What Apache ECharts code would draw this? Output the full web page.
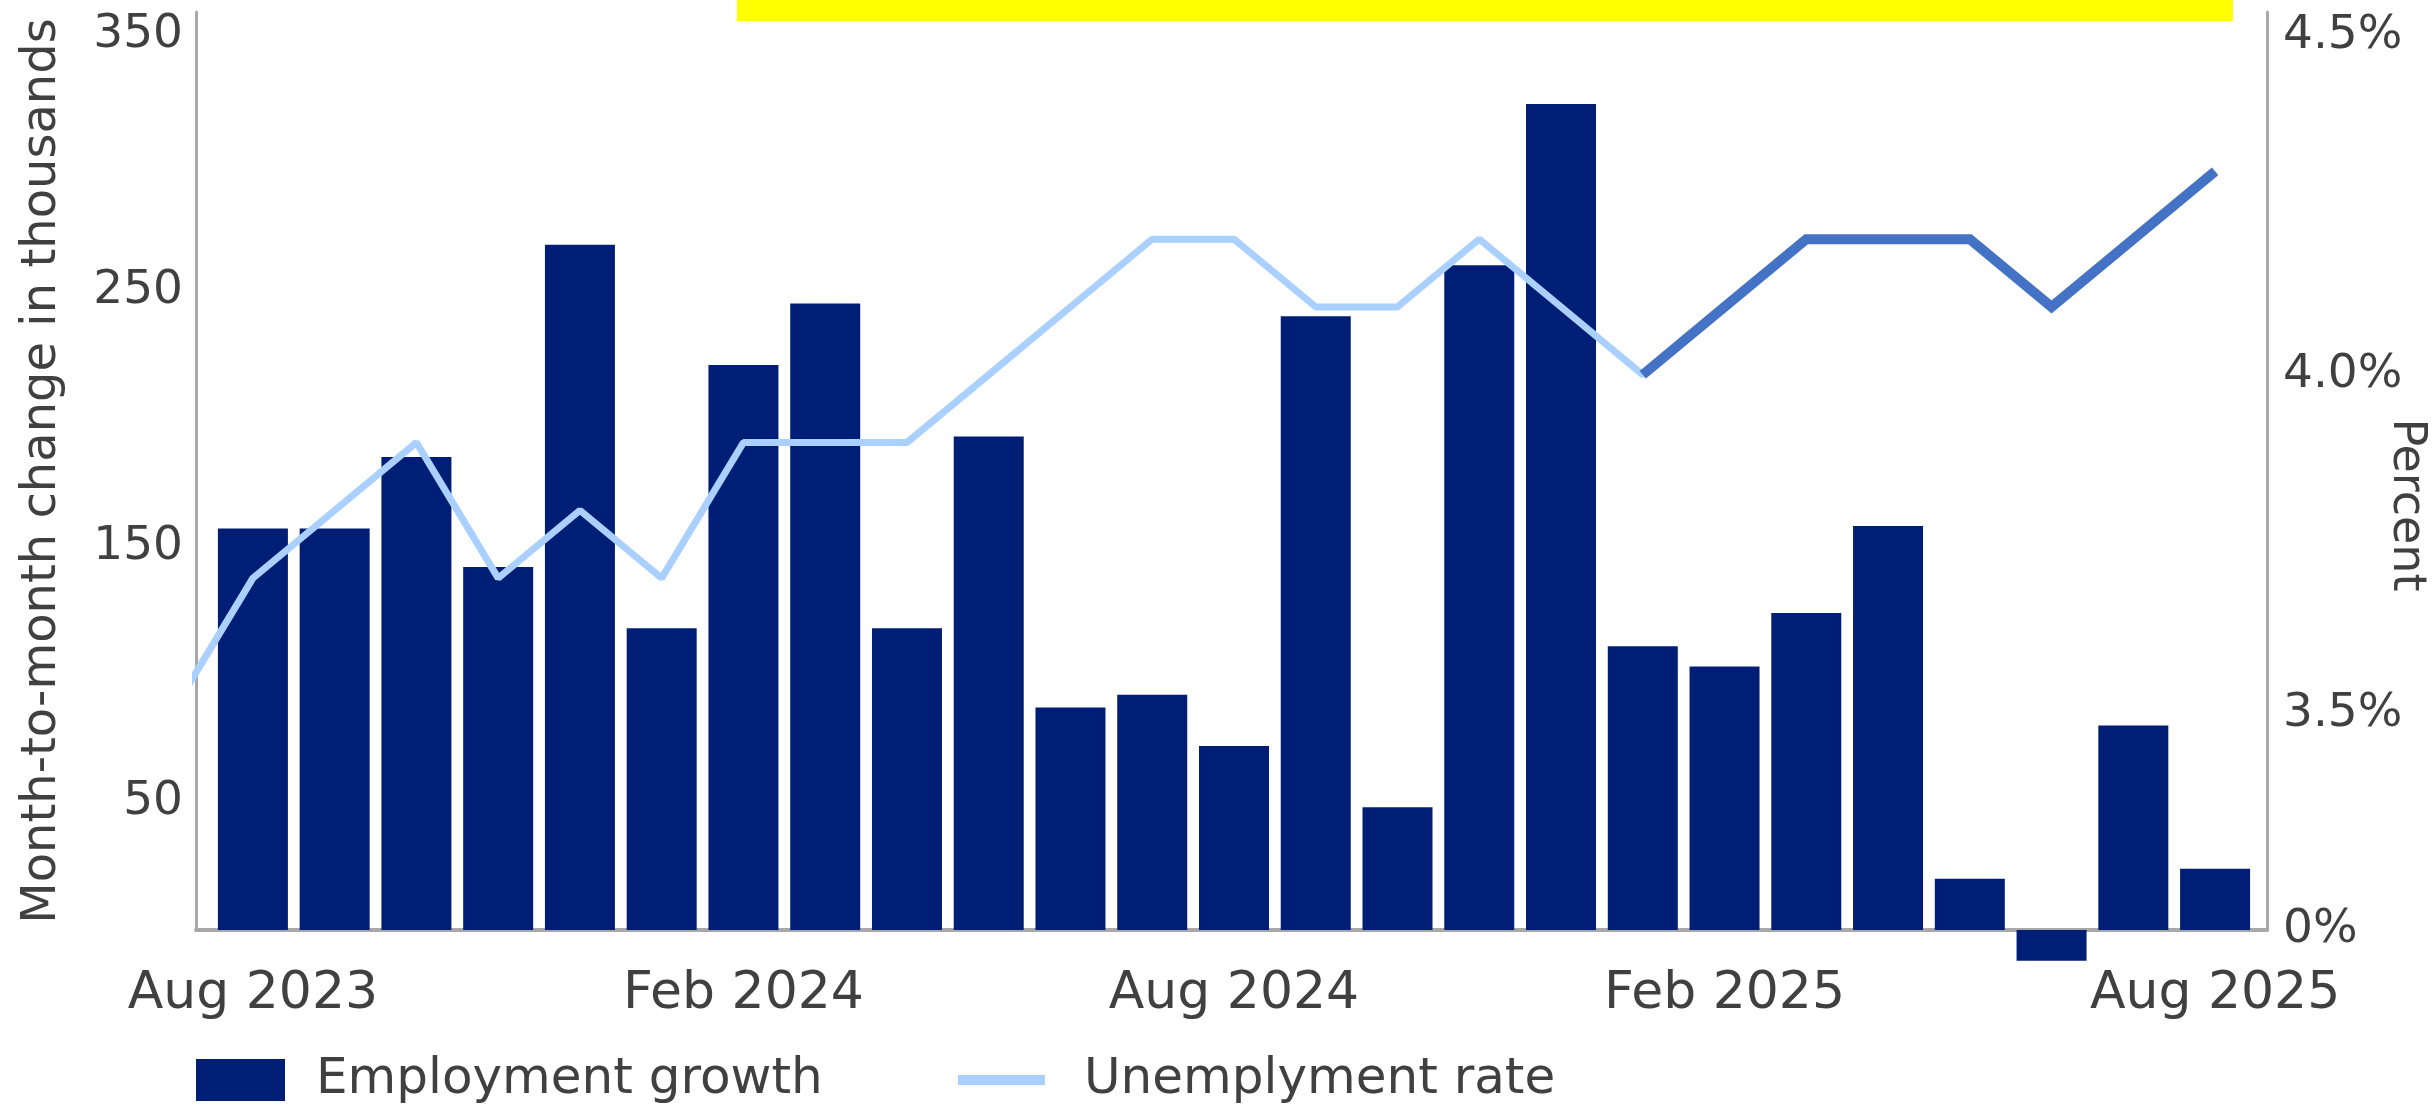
<!DOCTYPE html>
<html>
<head>
<meta charset="utf-8">
<style>
  html, body { margin: 0; padding: 0; background: #ffffff; }
  #chart { width: 2435px; height: 1111px; }
</style>
<script src="https://cdn.jsdelivr.net/npm/echarts@6/dist/echarts.min.js"></script>
</head>
<body>
<div id="chart"></div>
<script>
// ---------- data ----------
const categories = ['Aug 2023','Sep 2023','Oct 2023','Nov 2023','Dec 2023','Jan 2024','Feb 2024','Mar 2024','Apr 2024','May 2024','Jun 2024','Jul 2024','Aug 2024','Sep 2024','Oct 2024','Nov 2024','Dec 2024','Jan 2025','Feb 2025','Mar 2025','Apr 2025','May 2025','Jun 2025','Jul 2025','Aug 2025'];
const employmentGrowth = [157,157,185,142,268,118,221,245,118,193,87,92,72,240,48,260,323,111,103,124,158,20,-12,80,24];
const unemploymentRate = [3.7,3.8,3.9,3.7,3.8,3.7,3.9,3.9,3.9,4.0,4.1,4.2,4.2,4.1,4.1,4.2,4.1,4.0,4.1,4.2,4.2,4.2,4.1,4.2,4.3];
const priorMonthRate = 3.5;          // Jul 2023, only its segment into the plot is visible
const highlightStart = 17;           // Jan 2025 onward drawn in darker blue
const xTickIndices = [0, 6, 12, 18, 24];
const leftTickValues = [50, 150, 250, 350];
const rightTickValues = [3.181, 3.5, 4.0, 4.5];
const rightTickLabels = ['0%', '3.5%', '4.0%', '4.5%'];

// ---------- build ----------
const barData = employmentGrowth.map((v, i) => [i, v]);
const rateData = [[-1, priorMonthRate]].concat(unemploymentRate.map((v, i) => [i, v]));
const highlightData = unemploymentRate.map((v, i) => [i, v]).slice(highlightStart);

const FONT = 'DejaVu Sans';
const TEXT = '#404040';
const AXIS = '#A8A8A8';

const chart = echarts.init(document.getElementById('chart'), null, { renderer: 'canvas' });
chart.setOption({
  animation: false,
  backgroundColor: '#ffffff',
  textStyle: { fontFamily: FONT },
  grid: { left: 196, right: 168, top: 12, bottom: 181, containLabel: false, outerBoundsMode: 'none' },
  graphic: [
    { type: 'rect', left: 737, top: 0, shape: { width: 1496, height: 21 }, style: { fill: '#FFFF00' }, z: 10 },
    {
      type: 'text', x: 2406, y: 505, rotation: -Math.PI / 2, z: 10,
      style: { text: 'Percent', font: '46px "DejaVu Sans"', fill: TEXT, align: 'center', verticalAlign: 'middle' }
    }
  ],
  legend: [
    {
      left: 191, top: 1050, itemWidth: 89, itemHeight: 42, selectedMode: false,
      data: [{ name: 'Employment growth', icon: 'rect' }],
      textStyle: { fontSize: 50, lineHeight: 50, color: TEXT, fontFamily: FONT, padding: [0, 0, 0, 26] }
    },
    {
      left: 953, top: 1050, itemWidth: 87, itemHeight: 10, selectedMode: false,
      data: [{ name: 'Unemplyment rate', icon: 'rect' }],
      textStyle: { fontSize: 50, lineHeight: 50, color: TEXT, fontFamily: FONT, padding: [0, 0, 0, 34] }
    }
  ],
  xAxis: {
    type: 'value', min: -0.696, max: 24.635,
    axisLine: { show: true, onZero: false, lineStyle: { color: AXIS, width: 4 } },
    axisTick: { show: false },
    splitLine: { show: false },
    axisLabel: {
      customValues: xTickIndices,
      formatter: v => categories[Math.round(v)],
      fontSize: 52, color: TEXT, fontFamily: FONT, margin: 38
    }
  },
  yAxis: [
    {
      type: 'value', min: 0, max: 359, position: 'left',
      axisLine: { show: true, onZero: false, lineStyle: { color: AXIS, width: 3 } },
      axisTick: { show: false },
      splitLine: { show: false },
      axisLabel: { customValues: leftTickValues, fontSize: 47, color: TEXT, fontFamily: FONT, margin: 13 },
      name: 'Month-to-month change in thousands',
      nameLocation: 'middle', nameGap: 129,
      nameTextStyle: { fontSize: 48, color: TEXT, fontFamily: FONT }
    },
    {
      type: 'value', min: 3.181, max: 4.535, position: 'right',
      axisLine: { show: true, onZero: false, lineStyle: { color: AXIS, width: 3 } },
      axisTick: { show: false },
      splitLine: { show: false },
      axisLabel: {
        customValues: rightTickValues,
        formatter: v => rightTickLabels[rightTickValues.findIndex(t => Math.abs(t - v) < 1e-6)],
        fontSize: 47, color: TEXT, fontFamily: FONT, margin: 16
      }
    }
  ],
  series: [
    {
      name: 'Employment growth', type: 'bar', xAxisIndex: 0, yAxisIndex: 0,
      data: barData, barWidth: 70, clip: false,
      itemStyle: { color: '#001E76' }
    },
    {
      name: 'Unemplyment rate', type: 'line', xAxisIndex: 0, yAxisIndex: 1,
      data: rateData, showSymbol: false, symbol: 'none', clip: true,
      lineStyle: { color: '#A9D0FF', width: 7 },
      itemStyle: { color: '#A9D0FF' }
    },
    {
      name: 'Unemplyment rate (recent)', type: 'line', xAxisIndex: 0, yAxisIndex: 1,
      data: highlightData, showSymbol: false, symbol: 'none',
      lineStyle: { color: '#4472C4', width: 10, join: 'miter' },
      itemStyle: { color: '#4472C4' }
    }
  ]
});
</script>
</body>
</html>
